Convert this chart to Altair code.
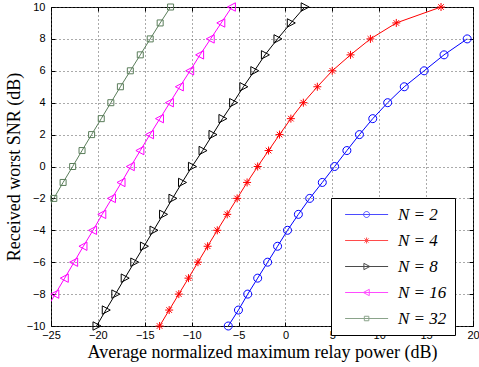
import altair as alt
import pandas as pd

# ---- data ----
labels = ["N = 2", "N = 4", "N = 8", "N = 16", "N = 32"]

snr_2 = list(range(-10, 9))
pow_2 = [-6.10, -5.01, -4.02, -2.96, -1.90, -0.84, 0.22, 1.38, 2.59, 3.93,
         5.24, 6.55, 7.89, 9.31, 10.90, 12.67, 14.79, 16.91, 19.38]

snr_4 = list(range(-10, 11))
pow_4 = [-13.42, -12.40, -11.37, -10.34, -9.33, -8.30, -7.27, -6.21, -5.15, -4.09,
         -2.96, -1.80, -0.63, 0.58, 1.91, 3.40, 4.99, 6.94, 9.06, 11.82, 16.59]

snr_8 = list(range(-10, 11))
pow_8 = [-20.14, -19.15, -18.13, -17.13, -16.11, -15.08, -14.06, -13.04, -12.04, -11.02,
         -9.96, -8.83, -7.77, -6.71, -5.57, -4.48, -3.31, -2.18, -0.84, 0.58, 2.06]

snr_16 = list(range(-9, 11))
pow_16 = [-25.55, -24.55, -23.54, -22.54, -21.55, -20.52, -19.54, -18.51, -17.49, -16.50,
          -15.48, -14.45, -13.39, -12.33, -11.27, -10.17, -9.11, -7.98, -6.85, -5.72]

snr_32 = list(range(-3, 11))
pow_32 = [-25.70, -24.70, -23.71, -22.69, -21.69, -20.67, -19.64, -18.62, -17.60,
          -16.54, -15.48, -14.42, -13.36, -12.25]

x_ticks = [-25, -20, -15, -10, -5, 0, 5, 10, 15, 20]
y_ticks = [-10, -8, -6, -4, -2, 0, 2, 4, 6, 8, 10]

series = [(labels[0], pow_2, snr_2), (labels[1], pow_4, snr_4), (labels[2], pow_8, snr_8),
          (labels[3], pow_16, snr_16), (labels[4], pow_32, snr_32)]
rows = []
for lab, xs, ys in series:
    for xv, yv in zip(xs, ys):
        rows.append({"N": lab, "x": xv, "y": yv})
df = pd.DataFrame(rows)

colors = ["#0000ff", "#ff0000", "#000000", "#ff00ff", "#5a7d5a"]


# ---- marker glyphs (unit coordinates) ----
def circle(cx, r):
    return f"M{cx + r},0A{r},{r} 0 1,1 {cx - r},0A{r},{r} 0 1,1 {cx + r},0Z"


def star(cx, r):
    a = 0.7 * r
    return (f"M{cx},{-r}L{cx},{r}M{cx - r},0L{cx + r},0"
            f"M{cx - a},{-a}L{cx + a},{a}M{cx - a},{a}L{cx + a},{-a}")


def tri_r(cx, r):
    return f"M{cx - 0.9 * r},{-1.05 * r}L{cx + 1.1 * r},0L{cx - 0.9 * r},{1.05 * r}Z"


def tri_l(cx, r):
    return f"M{cx + 0.9 * r},{-1.05 * r}L{cx - 1.1 * r},0L{cx + 0.9 * r},{1.05 * r}Z"


def square(cx, r):
    h = 0.75 * r
    return f"M{cx - h},{-h}L{cx + h},{-h}L{cx + h},{h}L{cx - h},{h}Z"


makers = [circle, star, tri_r, tri_l, square]
plot_shapes = [m(0, 1) for m in makers]
leg_shapes = ["M-0.4,0L6.77,0" + m(3.18, 0.5) for m in makers]

xs = alt.Scale(domain=[-25, 20], nice=False, zero=False)
ys = alt.Scale(domain=[-10, 10], nice=False, zero=False)
cs = alt.Scale(domain=labels, range=colors)

lab_font = "Liberation Sans"
ttl_font = "Liberation Serif"

base = alt.Chart(df)

lines = base.mark_line(strokeWidth=1, clip=True).encode(
    x=alt.X("x:Q", scale=xs, axis=alt.Axis(
        values=x_ticks, grid=True, gridDash=[1, 3], gridColor="#555", gridWidth=1,
        ticks=False, domain=False, labelPadding=3, labelFont=lab_font, labelFontSize=11,
        labelColor="black", labelFlush=False, labelOverlap=False,
        title="Average normalized maximum relay power (dB)",
        titleFont=ttl_font, titleFontSize=18, titleFontWeight="normal", titleColor="black",
        titlePadding=3)),
    y=alt.Y("y:Q", scale=ys, axis=alt.Axis(
        values=y_ticks, grid=True, gridDash=[1, 3], gridColor="#555", gridWidth=1,
        ticks=False, domain=False, labelPadding=6, labelFont=lab_font, labelFontSize=11,
        labelColor="black", labelFlush=False, labelOverlap=False,
        title="Received worst SNR (dB)",
        titleFont=ttl_font, titleFontSize=18, titleFontWeight="normal", titleColor="black",
        titlePadding=3)),
    color=alt.Color("N:N", scale=cs, legend=None),
    detail="N:N",
    order="y:Q",
)

points = base.transform_filter("datum.x >= -25").mark_point(
    filled=False, size=64, strokeWidth=1, opacity=1).encode(
    x=alt.X("x:Q", scale=xs, axis=alt.Axis(
        orient="bottom", values=x_ticks, grid=False, domain=False, labels=False,
        tickSize=4, offset=-4, tickColor="black", title=None)),
    y=alt.Y("y:Q", scale=ys, axis=alt.Axis(
        orient="left", values=y_ticks, grid=False, domain=False, labels=False,
        tickSize=4, offset=-4, tickColor="black", title=None)),
    color=alt.Color("N:N", scale=cs, legend=None),
    shape=alt.Shape("N:N", scale=alt.Scale(domain=labels, range=plot_shapes), legend=None),
)

leg = alt.Legend(
    title=None, orient="none", legendX=280, legendY=191, strokeColor="black",
    fillColor="white", padding=8, rowPadding=8, symbolSize=144, symbolStrokeWidth=1,
    labelFont=ttl_font, labelFontSize=17, labelFontStyle="italic", labelColor="black",
    labelOffset=42, labelExpr="datum.label + '       '", labelLimit=400)

legend_layer = base.transform_filter("datum.x > 1000").mark_point(
    filled=False, size=144, strokeWidth=1).encode(
    x=alt.X("x:Q", scale=xs, axis=alt.Axis(
        orient="top", values=x_ticks, grid=False, domain=False, labels=False,
        tickSize=4, offset=-4, tickColor="black", title=None)),
    y=alt.Y("y:Q", scale=ys, axis=alt.Axis(
        orient="right", values=y_ticks, grid=False, domain=False, labels=False,
        tickSize=4, offset=-4, tickColor="black", title=None)),
    color=alt.Color("N:N", scale=cs, legend=leg),
    shape=alt.Shape("N:N", scale=alt.Scale(domain=labels, range=leg_shapes), legend=leg),
)

chart = alt.layer(lines, points, legend_layer).resolve_scale(
    color="independent", shape="independent"
).resolve_axis(
    x="independent", y="independent"
).properties(
    width=422, height=319,
    autosize=alt.AutoSizeParams(type="none"),
    padding={"left": 51, "top": 7, "right": 6, "bottom": 41},
    background="white",
).configure_view(stroke="black", strokeWidth=1)

chart.save("out.html", embed_options={"renderer": "svg", "actions": False})
